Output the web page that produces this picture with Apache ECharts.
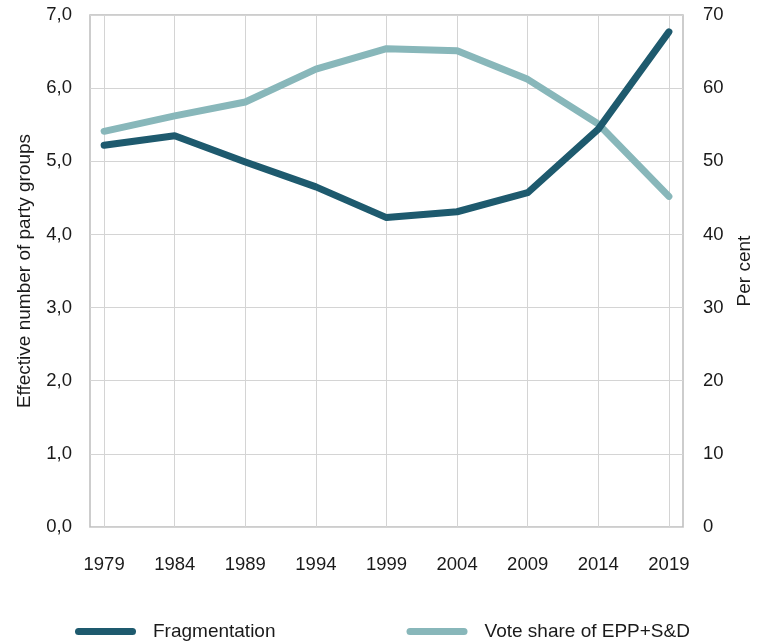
<!DOCTYPE html>
<html>
<head>
<meta charset="utf-8">
<script src="https://cdn.jsdelivr.net/npm/echarts@6/dist/echarts.min.js"></script>
<style>
  html, body { margin: 0; padding: 0; background: #fff; }
  #chart { width: 757px; height: 644px; }
</style>
</head>
<body>
<div id="chart"></div>
<script>
// election years
const years = [1979, 1984, 1989, 1994, 1999, 2004, 2009, 2014, 2019];
// effective number of party groups
const fragmentation = [5.22, 5.35, 4.99, 4.65, 4.23, 4.31, 4.57, 5.44, 6.77];
// vote share of EPP+S&D, per cent
const voteShare = [54.1, 56.2, 58.1, 62.6, 65.4, 65.1, 61.2, 55.1, 45.2];

// axis runs one year either side of the election years
const axisYears = [];
for (let y = years[0] - 1; y <= years[years.length - 1] + 1; y++) axisYears.push(String(y));
const isElection = (idx) => (Number(axisYears[idx]) - years[0]) % 5 === 0;

const dark = '#1e5a6e';
const light = '#88b7ba';
const textColor = '#1a1a1a';
const font = 'Liberation Sans';

const capsule = 'path://M3.5,0 L57.5,0 A3.5,3.5 0 0 1 57.5,7 L3.5,7 A3.5,3.5 0 0 1 3.5,0 Z';

const chart = echarts.init(document.getElementById('chart'));
chart.setOption({
  animation: false,
  textStyle: { fontFamily: font, color: textColor },
  grid: {
    left: 90, right: 74, top: 15, bottom: 117,
    outerBoundsMode: 'none',
    show: true, borderColor: '#bdbdbd', borderWidth: 1.5
  },
  legend: {
    top: 617, left: 70,
    itemWidth: 61, itemHeight: 7, itemGap: 131,
    textStyle: { fontSize: 19, color: textColor, fontFamily: font, padding: [0, 0, 0, 12] },
    data: [
      { name: 'Fragmentation', icon: capsule, itemStyle: { color: dark } },
      { name: 'Vote share of EPP+S&D', icon: capsule, itemStyle: { color: light } }
    ]
  },
  xAxis: {
    type: 'category',
    data: axisYears,
    boundaryGap: false,
    axisLine: { show: false },
    axisTick: { show: false },
    axisLabel: {
      interval: (idx) => isElection(idx),
      fontSize: 18.5, color: textColor, margin: 28
    },
    splitLine: {
      show: true,
      interval: (idx) => isElection(idx),
      lineStyle: { color: '#d4d4d4', width: 1 }
    }
  },
  yAxis: [
    {
      type: 'value', min: 0, max: 7, interval: 1,
      name: 'Effective number of party groups',
      nameLocation: 'middle', nameGap: 56, nameRotate: 90,
      nameTextStyle: { fontSize: 19, color: textColor },
      axisLine: { show: false }, axisTick: { show: false },
      axisLabel: {
        fontSize: 18.5, color: textColor, margin: 18,
        formatter: (v) => v.toFixed(1).replace('.', ',')
      },
      splitLine: { lineStyle: { color: '#d4d4d4', width: 1 } }
    },
    {
      type: 'value', min: 0, max: 70, interval: 10,
      name: 'Per cent',
      nameLocation: 'middle', nameGap: 52, nameRotate: 90,
      nameTextStyle: { fontSize: 19, color: textColor },
      axisLine: { show: false }, axisTick: { show: false },
      axisLabel: { fontSize: 18.5, color: textColor, margin: 20 },
      splitLine: { show: false }
    }
  ],
  series: [
    {
      name: 'Vote share of EPP+S&D', type: 'line', yAxisIndex: 1,
      data: years.map((y, i) => [String(y), voteShare[i]]),
      symbol: 'none', color: light,
      lineStyle: { width: 7, color: light, cap: 'round', join: 'round' }
    },
    {
      name: 'Fragmentation', type: 'line', yAxisIndex: 0,
      data: years.map((y, i) => [String(y), fragmentation[i]]),
      symbol: 'none', color: dark,
      lineStyle: { width: 7, color: dark, cap: 'round', join: 'round' }
    }
  ]
});
</script>
</body>
</html>
